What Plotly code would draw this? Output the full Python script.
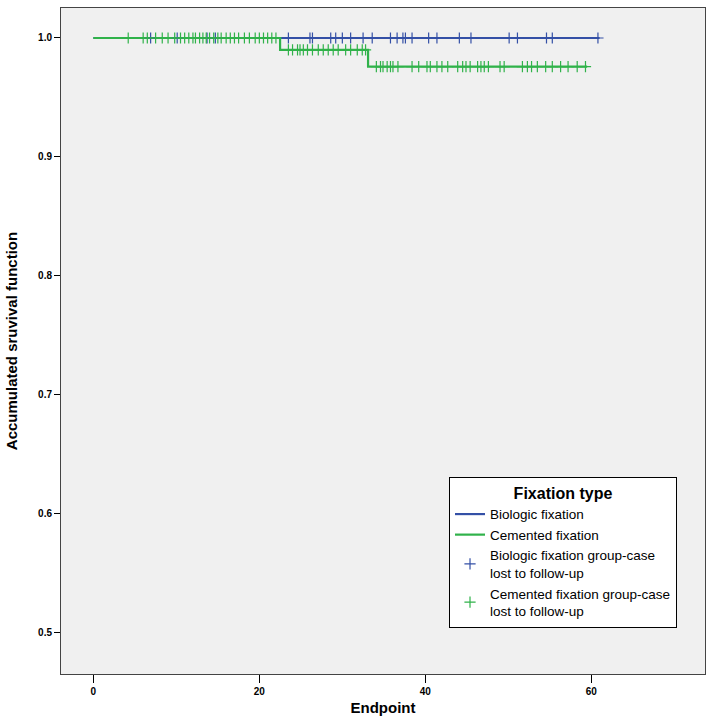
import plotly.graph_objects as go

# Kaplan-Meier step data (time, survival)
bio_times = [0, 61.0]
bio_surv = [1.0, 1.0]
cem_times = [0, 22.5, 33.1, 59.5]
cem_surv = [1.0, 0.990, 0.976, 0.976]

# Censored cases (lost to follow-up)
bio_cens_t = [6.9, 10.1, 13.7, 14.7, 23.5, 26.1, 26.4, 28.6, 29.2, 30.0, 31.0, 32.5, 33.6,
              35.8, 36.6, 37.3, 37.6, 38.4, 40.4, 41.4, 44.1, 45.5, 50.1, 51.1,
              54.6, 55.3, 60.8]
cem_cens_1 = [4.2, 6.0, 6.5, 7.5, 8.3, 9.0, 9.8, 10.5, 11.0, 11.5, 12.0, 12.3, 12.8, 13.2,
              13.6, 14.0, 14.5, 15.0, 15.4, 16.0, 16.5, 17.0, 17.5, 18.2, 18.8, 19.5,
              20.0, 20.5, 21.0, 21.5, 22.0]
cem_cens_2 = [23.5, 24.0, 24.6, 24.9, 25.3, 25.8, 26.4, 27.1, 27.7, 28.3, 28.9, 29.5,
              30.4, 31.0, 31.8, 32.4, 32.8]
cem_cens_3 = [34.1, 34.6, 34.9, 35.4, 35.8, 36.1, 36.7, 38.4, 39.2, 40.2, 40.6, 41.4,
              42.0, 42.7, 43.9, 44.5, 44.9, 45.4, 46.3, 46.7, 47.1, 47.6, 49.0, 49.5,
              51.7, 52.3, 52.8, 53.5, 54.5, 55.3, 56.3, 57.2, 58.3, 59.3]

x_ticks = [0, 20, 40, 60]
y_ticks = [0.5, 0.6, 0.7, 0.8, 0.9, 1.0]
y_tick_labels = ["0.5", "0.6", "0.7", "0.8", "0.9", "1.0"]

BLUE = "#3450a6"
GREEN = "#30b24a"
FONT = "Liberation Sans, Arial, sans-serif"


def surv_at(times, surv, t):
    s = surv[0]
    for tt, ss in zip(times, surv):
        if tt <= t:
            s = ss
    return s


cem_cens_t = cem_cens_1 + cem_cens_2 + cem_cens_3

fig = go.Figure()
fig.add_trace(go.Scatter(x=bio_times, y=bio_surv, mode="lines", line_shape="hv",
                         line=dict(color=BLUE, width=2.2), name="Biologic fixation"))
fig.add_trace(go.Scatter(x=cem_times, y=cem_surv, mode="lines", line_shape="hv",
                         line=dict(color=GREEN, width=2.2), name="Cemented fixation"))
fig.add_trace(go.Scatter(x=bio_cens_t, y=[surv_at(bio_times, bio_surv, t) for t in bio_cens_t],
                         mode="markers",
                         marker=dict(symbol="cross-thin-open", size=8, color=BLUE,
                                     line=dict(color=BLUE, width=1.2)),
                         name="Biologic fixation group-case<br>lost to follow-up"))
fig.add_trace(go.Scatter(x=cem_cens_t, y=[surv_at(cem_times, cem_surv, t) for t in cem_cens_t],
                         mode="markers",
                         marker=dict(symbol="cross-thin-open", size=8, color=GREEN,
                                     line=dict(color=GREEN, width=1.2)),
                         name="Cemented fixation group-case<br>lost to follow-up"))

fig.update_layout(
    width=709, height=718,
    margin=dict(l=61, r=4, t=8, b=44),
    paper_bgcolor="white",
    plot_bgcolor="#f0f0f0",
    font=dict(family=FONT, color="black"),
    showlegend=True,
    legend=dict(
        x=0.6025, y=0.2958, xanchor="left", yanchor="top",
        bgcolor="white", bordercolor="black", borderwidth=1,
        font=dict(size=13.5, family=FONT),
        title=dict(text="<b>Fixation type</b>", side="top center",
                   font=dict(size=16, family=FONT)),
        tracegroupgap=0, itemwidth=30,
    ),
    xaxis=dict(
        range=[-3.9, 73.7], tickvals=x_ticks, ticktext=[f"<b>{v}</b>" for v in x_ticks],
        ticks="outside", ticklen=8, tickcolor="black", showgrid=False, zeroline=False,
        showline=True, linecolor="#444", linewidth=1, mirror=True,
        tickfont=dict(size=10, family=FONT),
        title=dict(text="<b>Endpoint</b>", font=dict(size=15, family=FONT), standoff=6),
    ),
    yaxis=dict(
        range=[0.4655, 1.0252], tickvals=y_ticks,
        ticktext=[f"<b>{v}</b>" for v in y_tick_labels],
        ticks="outside", ticklen=6, tickcolor="black", showgrid=False, zeroline=False,
        showline=True, linecolor="#444", linewidth=1, mirror=True,
        tickfont=dict(size=10, family=FONT),
        title=dict(text="<b>Accumulated sruvival function</b>",
                   font=dict(size=15, family=FONT), standoff=16),
    ),
)

fig.write_html("out.html", config={"displayModeBar": False},
               post_script="document.body.style.margin='0';document.body.style.overflow='hidden';")
